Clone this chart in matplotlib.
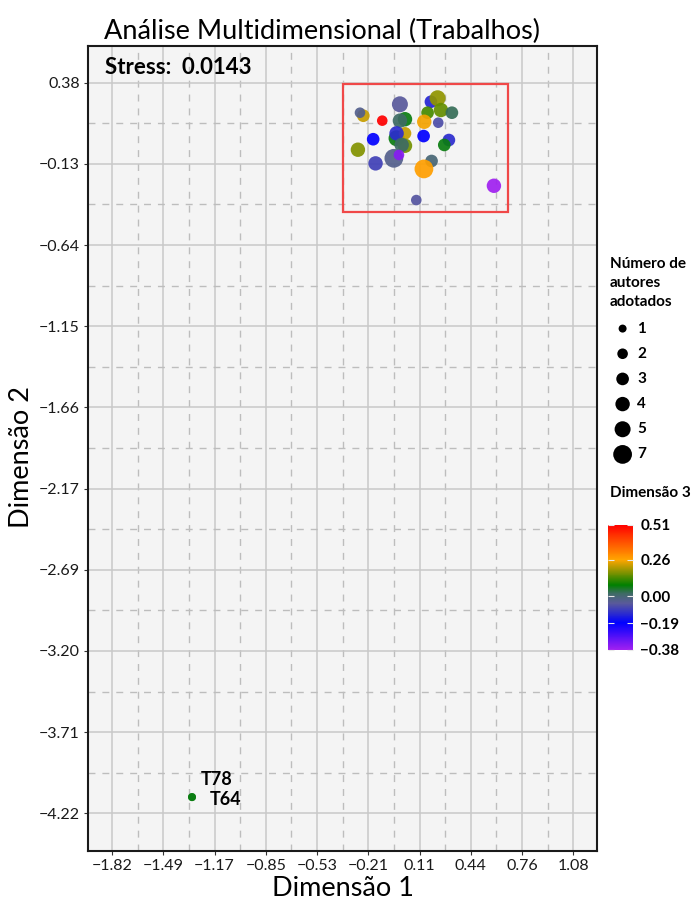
import numpy as np
import matplotlib
matplotlib.use("Agg")
import matplotlib.pyplot as plt
from matplotlib.colors import LinearSegmentedColormap, Normalize
from matplotlib.patches import Rectangle
import matplotlib.colorbar as mcolorbar

plt.rcParams['font.family'] = ['Lato', 'DejaVu Sans']
plt.rcParams['axes.unicode_minus'] = True

# --- data ---------------------------------------------------------------
dim1 = [-0.240, -0.261, -0.121, -0.010, 0.022, -0.010, 0.185, 0.227, 0.164,
        0.248, 0.317, 0.143, 0.231, -0.178, -0.031, 0.022, -0.031, 0.022,
        0.001, 0.139, 0.298, 0.269, -0.274, -0.163, -0.048, -0.016, 0.189,
        0.141, 0.581, 0.093, -1.317, -1.317]
dim2 = [0.172, 0.191, 0.141, 0.244, 0.150, 0.141, 0.260, 0.282, 0.191,
        0.208, 0.191, 0.134, 0.128, 0.024, 0.030, 0.061, 0.061, -0.017,
        -0.012, 0.044, 0.019, -0.012, -0.042, -0.128, -0.096, -0.075, -0.113,
        -0.163, -0.269, -0.359, -4.118, -4.118]
dim3 = [0.22, -0.03, 0.51, -0.05, 0.07, 0.02, -0.13, 0.18, 0.13,
        0.15, 0.03, 0.25, -0.07, -0.19, 0.07, 0.22, -0.12, 0.16,
        0.02, -0.19, -0.12, 0.07, 0.17, -0.09, -0.03, -0.35, 0.00,
        0.27, -0.38, -0.06, 0.07, 0.07]
n_autores = [3, 2, 2, 5, 4, 4, 3, 5, 3,
             4, 3, 4, 2, 3, 5, 3, 4, 4,
             4, 3, 3, 3, 4, 4, 7, 2, 3,
             7, 4, 2, 1, 1]
labels = {30: 'T78', 31: 'T64'}

x_ticks = [-1.82, -1.49, -1.17, -0.85, -0.53, -0.21, 0.11, 0.44, 0.76, 1.08]
y_ticks = [0.38, -0.13, -0.64, -1.15, -1.66, -2.17, -2.69, -3.20, -3.71, -4.22]
size_breaks = [1, 2, 3, 4, 5, 7]
col_breaks = [0.51, 0.26, 0.00, -0.19, -0.38]
stress = 0.0143
zoom_box = (-0.370, -0.436, 0.671, 0.372)  # x0, y0, x1, y1

# --- styles -------------------------------------------------------------
vmin, vmax = -0.38, 0.51
stops = [(-0.38, '#A020F0'), (-0.19, '#0000FF'), (-0.05, '#5A5A9A'),
         (0.02, '#3F6B66'), (0.08, '#008000'), (0.26, '#FFA500'), (0.51, '#FF0000')]
cmap = LinearSegmentedColormap.from_list(
    'dim3', [((v - vmin) / (vmax - vmin), c) for v, c in stops])
norm = Normalize(vmin, vmax)


def size_pt2(n):
    # area grows linearly with the number of authors
    d_px = np.sqrt(16 + 48 * np.asarray(n, dtype=float))
    return (d_px * 0.72) ** 2


def fmt(v):
    return f'{v:.2f}'.replace('-', '\u2212')


W, H = 695, 900
fig = plt.figure(figsize=(W / 100, H / 100), dpi=100)
ax = fig.add_axes([88.3 / W, 1 - 850.7 / H, (597.3 - 88.3) / W, (850.7 - 46) / H])
ax.set_facecolor('#F4F4F4')

xt = np.linspace(x_ticks[0], x_ticks[-1], len(x_ticks))
yt = np.linspace(y_ticks[-1], y_ticks[0], len(y_ticks))
ax.set_xticks(xt)
ax.set_xticklabels([fmt(v) for v in x_ticks])
ax.set_yticks(yt)
ax.set_yticklabels([fmt(v) for v in y_ticks[::-1]])
ax.set_xticks((xt[:-1] + xt[1:]) / 2, minor=True)
ax.set_yticks((yt[:-1] + yt[1:]) / 2, minor=True)
ax.grid(True, which='major', color='#C8C8C8', linewidth=1.1)
ax.grid(True, which='minor', color='#BDBDBD', linewidth=1.0, linestyle=(0, (5, 5)))
ax.set_axisbelow(True)
ax.tick_params(which='minor', length=0)
ax.tick_params(which='major', length=3, width=0.8, color='#333333',
               labelsize=11.5, labelcolor='#1A1A1A', pad=3)
for s in ax.spines.values():
    s.set_linewidth(1.5)
    s.set_color('#1A1A1A')

ax.set_xlim(-1.969, 1.231)
ax.set_ylim(-4.4555, 0.611)

ax.scatter(dim1, dim2, s=size_pt2(n_autores), c=dim3, cmap=cmap, norm=norm,
           alpha=0.92, linewidths=0, zorder=3)

x0, y0, x1, y1 = zoom_box
ax.add_patch(Rectangle((x0, y0), x1 - x0, y1 - y0, fill=False,
                       edgecolor='#F04848', linewidth=1.6, zorder=4))

offsets = {'T78': (6, 13), 'T64': (12.5, -1.5)}
for i, lab in labels.items():
    ax.annotate(lab, (dim1[i], dim2[i]), xytext=offsets[lab], textcoords='offset points',
                fontsize=13, fontweight='bold', va='center', ha='left', zorder=5)

fig.text(105 / W, 1 - 68 / H, f'Stress:  {stress}', fontsize=16,
         fontweight='bold', va='center', ha='left')

fig.text(104 / W, 1 - 31 / H, 'Análise Multidimensional (Trabalhos)', fontsize=19.5,
         va='center', ha='left')
ax.set_xlabel('Dimensão 1', fontsize=19.5, labelpad=2)
fig.text(22 / W, 1 - 457 / H, 'Dimensão 2', fontsize=19.5, rotation=90,
         va='center', ha='center')

# --- size legend --------------------------------------------------------
fig.text(610 / W, 1 - 257 / H, 'Número de\nautores\nadotados', fontsize=11,
         fontweight='bold', va='top', ha='left', linespacing=1.45)
lax = fig.add_axes([605 / W, 1 - 467 / H, 80 / W, (467 - 316) / H])
lax.set_xlim(0, 1)
lax.set_ylim(len(size_breaks) - 0.5, -0.5)
lax.axis('off')
pos = np.arange(len(size_breaks))
lax.scatter(np.full(len(pos), 0.22), pos, s=size_pt2(size_breaks), color='black',
            linewidths=0)
for p, b in zip(pos, size_breaks):
    lax.text(0.40, p, str(b), fontsize=11, fontweight='bold', va='center', ha='left')

# --- colour bar ---------------------------------------------------------
fig.text(610 / W, 1 - 493 / H, 'Dimensão 3', fontsize=11, fontweight='bold',
         va='center', ha='left')
cax = fig.add_axes([608.3 / W, 1 - 649.7 / H, 25 / W, 125 / H])
cb = mcolorbar.ColorbarBase(cax, cmap=cmap, norm=norm, orientation='vertical')
cb.outline.set_visible(False)
cb.set_ticks(col_breaks)
cb.set_ticklabels([fmt(v) for v in col_breaks])
cax.tick_params(direction='in', length=4, width=0.8, color='#E8E8E8',
                labelsize=11, pad=5, left=True, right=True)
for t in cax.get_yticklabels():
    t.set_fontweight('bold')

fig.savefig('out.png', dpi=100)
